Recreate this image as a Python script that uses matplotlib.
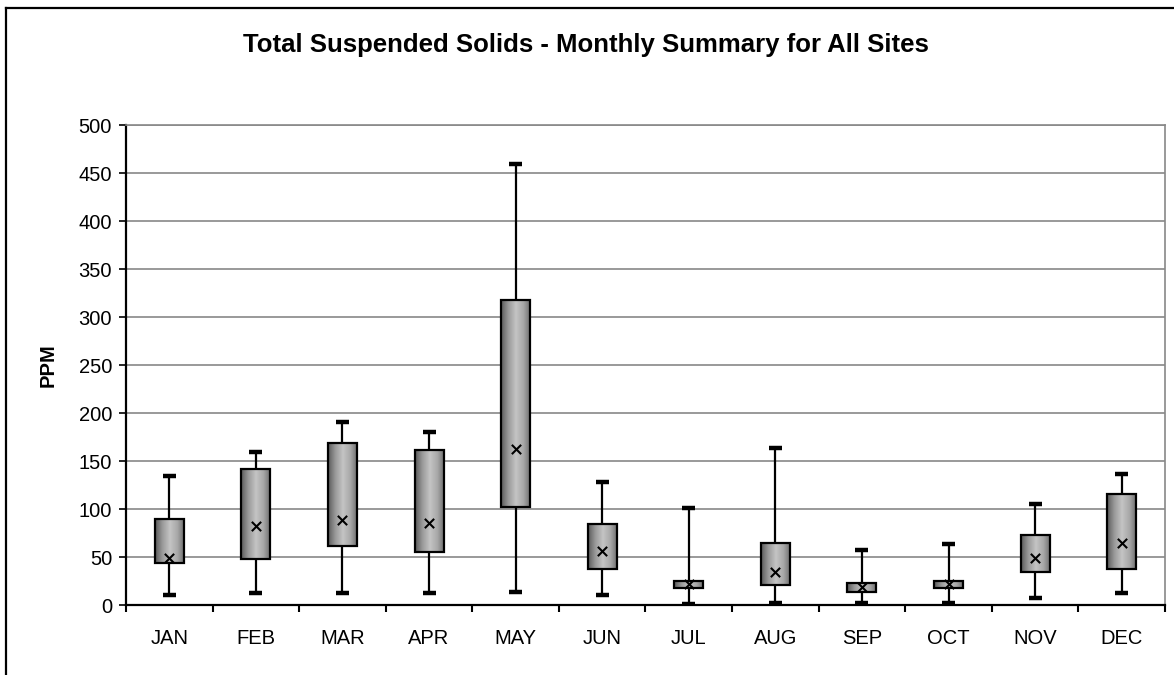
import numpy as np
import matplotlib
matplotlib.use("Agg")
import matplotlib.pyplot as plt
from matplotlib.patches import Rectangle
from matplotlib.lines import Line2D
from matplotlib.colors import LinearSegmentedColormap

plt.rcParams["font.family"] = ["Liberation Sans", "DejaVu Sans"]

# 月ごとの統計値 (PPM)
months = ["JAN", "FEB", "MAR", "APR", "MAY", "JUN",
          "JUL", "AUG", "SEP", "OCT", "NOV", "DEC"]
whisker_low = [10, 12, 12, 12, 14, 10, 1, 2, 2, 2, 7, 12]
box_low = [44, 48, 61, 55, 102, 38, 18, 21, 14, 18, 34, 38]
means = [49, 82, 89, 85, 162, 56, 22, 34, 19, 22, 49, 65]
box_high = [90, 142, 169, 161, 318, 84, 25, 65, 23, 25, 73, 116]
whisker_high = [134, 159, 191, 180, 459, 128, 101, 164, 57, 64, 105, 136]

fig = plt.figure(figsize=(11.74, 6.75), dpi=100)
ax = fig.add_axes([0.1073, 0.1037, 0.885, 0.7111])

# 外枠（上と左のみ見える）
fig.add_artist(Line2D([0.005, 1.0], [0.988, 0.988], transform=fig.transFigure,
                      color="black", lw=1.6))
fig.add_artist(Line2D([0.005, 0.005], [0.0, 0.988], transform=fig.transFigure,
                      color="black", lw=1.6))

x = np.arange(len(months))
box_w = 0.335
cap_w = 0.15

grad_cmap = LinearSegmentedColormap.from_list(
    "g", ["#5a5a5a", "#9a9a9a", "#c4c4c4", "#a8a8a8", "#6a6a6a"])
grad = np.linspace(0, 1, 256).reshape(1, -1)

for i in x:
    # ひげ
    ax.vlines(i, whisker_low[i], box_low[i], color="black", lw=1.6, zorder=3)
    ax.vlines(i, box_high[i], whisker_high[i], color="black", lw=1.6, zorder=3)
    ax.hlines([whisker_low[i], whisker_high[i]], i - cap_w / 2, i + cap_w / 2,
              color="black", lw=3.2, zorder=3)
    # グラデーションの箱
    rect = Rectangle((i - box_w / 2, box_low[i]), box_w, box_high[i] - box_low[i],
                     facecolor="none", edgecolor="black", lw=1.6, zorder=5)
    ax.add_patch(rect)
    im = ax.imshow(grad, cmap=grad_cmap, aspect="auto", zorder=4,
                   extent=(i - box_w / 2, i + box_w / 2, box_low[i], box_high[i]))
    im.set_clip_path(rect)

ax.scatter(x, means, marker="x", color="black", s=45, linewidths=1.5, zorder=6)

ax.set_xlim(-0.5, len(months) - 0.5)
ax.set_ylim(0, 500)
ax.set_yticks(np.arange(0, 501, 50))
ax.yaxis.grid(True, color="#999999", lw=1.4)
ax.set_axisbelow(True)

ax.set_xticks(x)
ax.set_xticklabels(months, fontsize=14.5)
ax.set_xticks(np.arange(-0.5, len(months), 1), minor=True)
ax.tick_params(axis="x", which="major", length=0, pad=17)
ax.tick_params(axis="x", which="minor", length=5, width=1.5, direction="out")
ax.tick_params(axis="y", length=5, width=1.2, labelsize=14.5, pad=5)

for side in ["left", "bottom"]:
    ax.spines[side].set_linewidth(1.6)
    ax.spines[side].set_color("black")
for side in ["right", "top"]:
    ax.spines[side].set_color("#888888")
    ax.spines[side].set_linewidth(1.2)

ax.set_ylabel("PPM", fontsize=14.5, fontweight="bold")
ax.yaxis.set_label_coords(-0.066, 0.5)
fig.text(0.499, 0.933, "Total Suspended Solids - Monthly Summary for All Sites",
         ha="center", va="center", fontsize=18.5, fontweight="bold")

fig.savefig("out.png", dpi=100)
